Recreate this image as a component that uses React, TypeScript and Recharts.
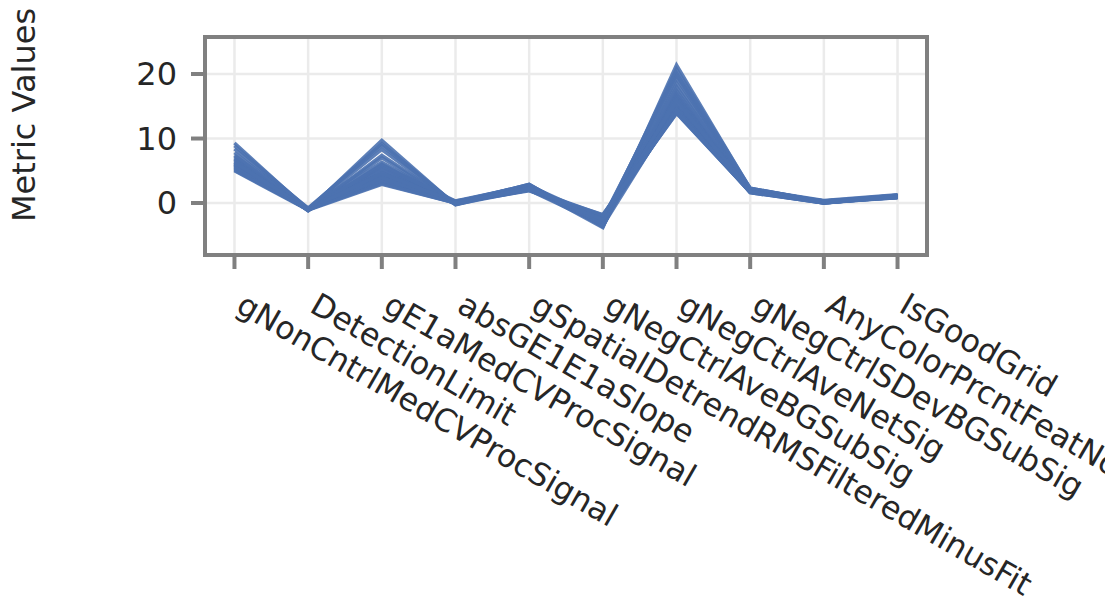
import React from "react";
import {
  CartesianGrid,
  Label,
  Line,
  LineChart,
  ReferenceArea,
  XAxis,
  YAxis,
} from "recharts";

const categories = [
  "gNonCntrlMedCVProcSignal",
  "DetectionLimit",
  "gE1aMedCVProcSignal",
  "absGE1E1aSlope",
  "gSpatialDetrendRMSFilteredMinusFit",
  "gNegCtrlAveBGSubSig",
  "gNegCtrlAveNetSig",
  "gNegCtrlSDevBGSubSig",
  "AnyColorPrcntFeatNonUnifOL",
  "IsGoodGrid",
];

// one value per sample (array) for each metric
const gNonCntrlMedCVProcSignal = [5.2, 5.6, 6.1, 5.4, 6.8, 7.2, 5.9, 6.4, 9.3, 5.1, 6.6, 7.8, 5.7, 6.2, 8.4, 5.3, 6.9, 5.8, 7.4, 6.0, 5.5, 8.9, 6.3, 5.0];
const detectionLimit = [-1.0, -0.9, -1.1, -1.0, -0.8, -1.2, -1.0, -0.9, -1.1, -1.0, -1.0, -0.9, -1.1, -1.0, -0.8, -1.0, -1.2, -1.0, -0.9, -1.1, -1.0, -0.9, -1.0, -1.1];
const gE1aMedCVProcSignal = [3.2, 4.1, 5.6, 3.8, 6.3, 7.4, 4.5, 5.1, 9.7, 3.0, 4.8, 8.3, 3.6, 5.3, 8.9, 3.4, 6.0, 4.3, 7.0, 5.8, 3.9, 9.2, 4.6, 2.9];
const absGE1E1aSlope = [0.0, 0.1, -0.2, 0.2, 0.0, -0.1, 0.3, 0.1, -0.3, 0.0, 0.2, -0.1, 0.1, 0.0, -0.2, 0.2, 0.0, 0.1, -0.1, 0.3, 0.0, -0.2, 0.1, 0.0];
const gSpatialDetrend = [2.2, 2.5, 2.0, 2.7, 2.3, 2.9, 2.1, 2.6, 2.4, 1.9, 2.8, 2.2, 2.5, 2.0, 2.6, 2.3, 2.9, 2.1, 2.4, 2.7, 2.0, 2.5, 2.3, 2.2];
const gNegCtrlAveBGSubSig = [-2.1, -2.8, -3.4, -2.5, -3.0, -3.7, -2.3, -2.9, -3.8, -1.8, -3.2, -2.6, -3.5, -2.2, -3.1, -2.7, -3.6, -2.0, -2.4, -3.3, -2.9, -3.0, -2.6, -1.9];
const gNegCtrlAveNetSig = [14.0, 15.2, 16.8, 14.6, 17.5, 19.3, 15.0, 16.1, 21.4, 13.9, 16.5, 20.2, 14.8, 17.0, 18.6, 14.3, 18.0, 15.6, 19.8, 16.3, 14.5, 20.8, 15.9, 14.1];
const gNegCtrlSDevBGSubSig = [1.7, 1.9, 2.1, 1.8, 2.0, 2.3, 1.6, 1.9, 2.2, 1.7, 2.0, 2.1, 1.8, 1.9, 2.2, 1.7, 2.0, 1.8, 2.1, 1.9, 1.6, 2.3, 1.8, 1.7];
const anyColorPrcnt = [0.1, 0.2, 0.0, 0.3, 0.1, 0.2, 0.0, 0.1, 0.4, 0.1, 0.2, 0.0, 0.3, 0.1, 0.2, 0.0, 0.1, 0.2, 0.3, 0.1, 0.0, 0.2, 0.1, 0.3];
const isGoodGrid = [1.0, 1.1, 0.9, 1.2, 1.0, 0.8, 1.1, 1.0, 1.3, 0.9, 1.0, 1.1, 0.9, 1.0, 1.2, 1.0, 0.8, 1.1, 1.0, 0.9, 1.0, 1.2, 1.0, 0.9];

const columns = [
  gNonCntrlMedCVProcSignal,
  detectionLimit,
  gE1aMedCVProcSignal,
  absGE1E1aSlope,
  gSpatialDetrend,
  gNegCtrlAveBGSubSig,
  gNegCtrlAveNetSig,
  gNegCtrlSDevBGSubSig,
  anyColorPrcnt,
  isGoodGrid,
];

const yTicks = [0, 10, 20];
const xTicks = categories.map((_, i) => i);

const sampleKeys = gNonCntrlMedCVProcSignal.map((_, s) => `s${s}`);

const data = categories.map((name, i) => {
  const row: Record<string, number | string> = { x: i, name };
  sampleKeys.forEach((k, s) => {
    row[k] = columns[i][s];
  });
  return row;
});

const FONT = "DejaVu Sans, sans-serif";
const TEXT = "#262626";
const FRAME = "#808080";
const X_MIN = -0.4;
const X_MAX = 9.4;
const Y_MIN = -8.06;
const Y_MAX = 25.74;

function RotatedTick(props: any) {
  const { x, y, payload } = props;
  const by = y + 42;
  return (
    <text
      x={x}
      y={by}
      transform={`rotate(30 ${x} ${by})`}
      textAnchor="start"
      fill={TEXT}
      fontSize={31.5}
      fontFamily={FONT}
    >
      {categories[payload.value]}
    </text>
  );
}

export default function App() {
  return (
    <div style={{ position: "absolute", left: 0, top: 0, background: "#fff" }}>
      <LineChart
        width={1105}
        height={608}
        data={data}
        margin={{ top: 37, right: 178, bottom: 0, left: 0 }}
      >
        <CartesianGrid stroke="#ebebeb" strokeWidth={2.5} />
        <XAxis
          type="number"
          dataKey="x"
          domain={[X_MIN, X_MAX]}
          ticks={xTicks}
          allowDataOverflow
          axisLine={false}
          tickLine={{ stroke: FRAME, strokeWidth: 4 }}
          tickSize={14}
          tickMargin={0}
          height={353}
          interval={0}
          tick={<RotatedTick />}
        />
        <YAxis
          type="number"
          domain={[Y_MIN, Y_MAX]}
          ticks={yTicks}
          allowDataOverflow
          axisLine={false}
          tickLine={{ stroke: FRAME, strokeWidth: 4 }}
          tickSize={14}
          tickMargin={14}
          width={205}
          tick={{ fill: TEXT, fontSize: 32, fontFamily: FONT }}
        >
          <Label
            content={() => (
              <text
                x={35}
                y={115}
                transform="rotate(-90 35 115)"
                textAnchor="middle"
                fill={TEXT}
                fontSize={32}
                fontFamily={FONT}
              >
                Metric Values
              </text>
            )}
          />
        </YAxis>
        {sampleKeys.map((k) => (
          <Line
            key={k}
            dataKey={k}
            stroke="#4C72B0"
            strokeWidth={3.5}
            strokeOpacity={0.9}
            dot={false}
            activeDot={false}
            isAnimationActive={false}
          />
        ))}
        <ReferenceArea
          x1={X_MIN}
          x2={X_MAX}
          y1={Y_MIN}
          y2={Y_MAX}
          fill="none"
          stroke={FRAME}
          strokeWidth={4}
          ifOverflow="visible"
        />
      </LineChart>
    </div>
  );
}
